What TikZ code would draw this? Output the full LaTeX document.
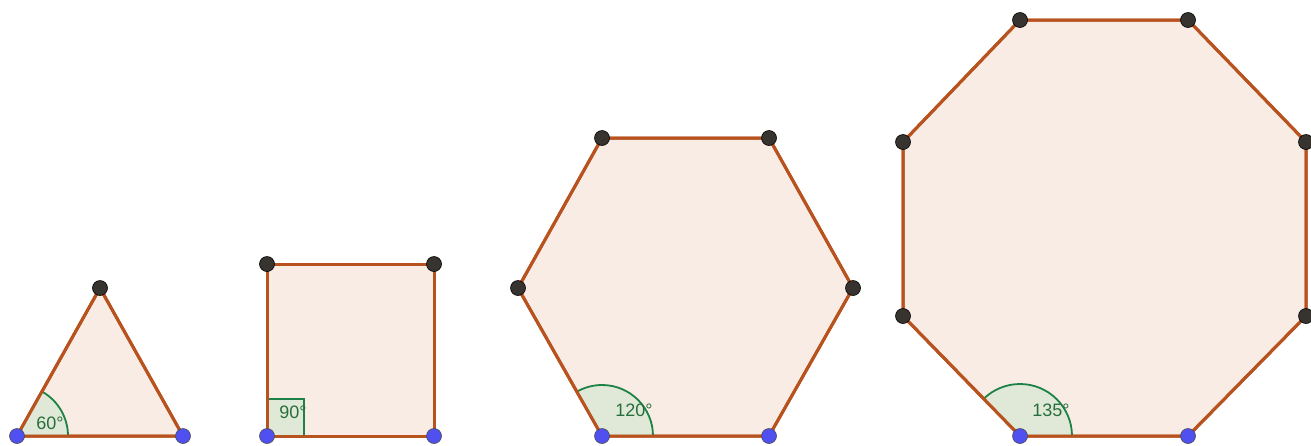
\documentclass[tikz,border=0pt]{standalone}
\usepackage{fontspec}
\setmainfont{Liberation Sans}
\definecolor{edge}{RGB}{184,82,30}
\definecolor{polyfill}{RGB}{249,236,229}
\definecolor{angc}{RGB}{30,130,70}
\definecolor{angfill}{RGB}{214,232,210}
\definecolor{bluept}{RGB}{80,80,240}
\definecolor{darkpt}{RGB}{55,52,48}
\definecolor{labc}{RGB}{40,110,60}
\begin{document}
\begin{tikzpicture}[x=1pt,y=-1pt,
  poly/.style={draw=edge,line width=3pt,fill=polyfill,line join=round},
  angmark/.style={draw=angc,line width=1.8pt,fill=angfill,fill opacity=0.7},
  bpt/.style={circle,fill=bluept,draw=black!70,line width=0.6pt,minimum size=15pt,inner sep=0pt},
  dpt/.style={circle,fill=darkpt,draw=black,line width=0.6pt,minimum size=15pt,inner sep=0pt},
  alab/.style={text=labc,font=\fontsize{18}{18}\selectfont,inner sep=0pt}]
\useasboundingbox (0,0) rectangle (1311,445);
% triangle
\coordinate (t1) at (17,436); \coordinate (t2) at (183,436); \coordinate (t3) at (100,288);
\filldraw[poly] (t1)--(t2)--(t3)--cycle;
\draw[angmark] (t1) -- ++(51,0) arc[start angle=0,end angle=-60.7,radius=51] -- cycle;
\draw[poly,fill=none] (t1)--(t2)--(t3)--cycle;
\node[alab] (l60) at (50,423) {60°};
% square
\coordinate (s1) at (267,436); \coordinate (s2) at (434,436); \coordinate (s3) at (434,264); \coordinate (s4) at (267,264);
\filldraw[poly] (s1)--(s2)--(s3)--(s4)--cycle;
\draw[angmark] (s1) -- ++(37,0) -- ++(0,-37) -- ++(-37,0) -- cycle;
\draw[poly,fill=none] (s1)--(s2)--(s3)--(s4)--cycle;
\node[alab] (l90) at (293,412) {90°};
% hexagon
\coordinate (h1) at (602,436); \coordinate (h2) at (769,436); \coordinate (h3) at (853,288);
\coordinate (h4) at (769,138); \coordinate (h5) at (602,138); \coordinate (h6) at (518,288);
\filldraw[poly] (h1)--(h2)--(h3)--(h4)--(h5)--(h6)--cycle;
\draw[angmark] (h1) -- ++(51,0) arc[start angle=0,end angle=-119.6,radius=51] -- cycle;
\draw[poly,fill=none] (h1)--(h2)--(h3)--(h4)--(h5)--(h6)--cycle;
\node[alab] (l120) at (634,410) {120°};
% octagon
\coordinate (o1) at (1020,436); \coordinate (o2) at (1188,436); \coordinate (o3) at (1306,316); \coordinate (o4) at (1306,142);
\coordinate (o5) at (1188,20); \coordinate (o6) at (1020,20); \coordinate (o7) at (903,142); \coordinate (o8) at (903,316);
\filldraw[poly] (o1)--(o2)--(o3)--(o4)--(o5)--(o6)--(o7)--(o8)--cycle;
\draw[angmark] (o1) -- ++(52,0) arc[start angle=0,end angle=-134.4,radius=52] -- cycle;
\draw[poly,fill=none] (o1)--(o2)--(o3)--(o4)--(o5)--(o6)--(o7)--(o8)--cycle;
\node[alab] (l135) at (1051,410) {135°};
% points
\foreach \p in {t1,t2,s1,s2,h1,h2,o1,o2} \node[bpt] (p\p) at (\p) {};
\foreach \p in {t3,s3,s4,h3,h4,h5,h6,o3,o4,o5,o6,o7,o8} \node[dpt] (p\p) at (\p) {};
\end{tikzpicture}
\end{document}
